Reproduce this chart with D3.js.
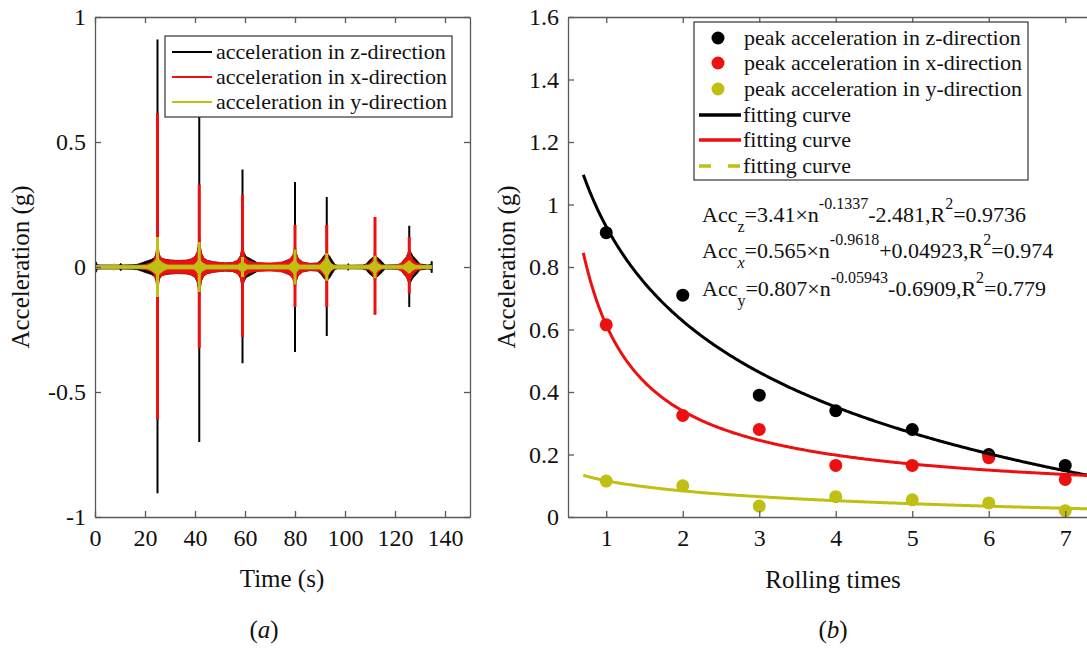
<!DOCTYPE html>
<html>
<head>
<meta charset="utf-8">
<script src="https://cdn.jsdelivr.net/npm/d3@7"></script>
<style>
  body { margin: 0; background: #fff; }
  svg text { font-family: "Liberation Serif", "Times New Roman", serif; fill: #111; }
</style>
</head>
<body>
<svg id="chart" width="1087" height="650"></svg>
<script>
// ---------- (a) acceleration time history ----------
const timeTicks = [0, 20, 40, 60, 80, 100, 120, 140];
const accTicks = [-1, -0.5, 0, 0.5, 1];
// time of each rolling pass (s)
const passTimes = [25, 41.7, 59, 80, 92.7, 112, 125.7];
// spike extremes at each pass (g)
const zSpikeUp   = [0.91, 0.71, 0.39, 0.34, 0.28, 0.20, 0.165];
const zSpikeDown = [-0.905, -0.70, -0.385, -0.34, -0.276, -0.19, -0.16];
const xSpikeUp   = [0.615, 0.33, 0.288, 0.168, 0.168, 0.20, 0.12];
const xSpikeDown = [-0.61, -0.325, -0.28, -0.16, -0.16, -0.19, -0.105];
const ySpikeUp   = [0.12, 0.10, 0.04, 0.07, 0.055, 0.045, 0.025];
const ySpikeDown = [-0.12, -0.10, -0.04, -0.07, -0.055, -0.045, -0.025];
// vibration band half-width along the record: [time (s), amplitude (g)]
const zBand = [[0,0.02],[0.6,0.02],[0.8,0.009],[2,0.008],[9.8,0.008],[10.3,0.015],[10.8,0.008],[15,0.009],[17,0.011],[19,0.018],[21,0.025],[22.5,0.03],[23.8,0.038],[24.6,0.06],[25,0.13],[25.4,0.06],[26,0.04],[27,0.034],[28.5,0.03],[30,0.028],[33,0.026],[36.5,0.027],[38.5,0.032],[40,0.042],[40.9,0.06],[41.4,0.09],[41.7,0.14],[42,0.09],[42.6,0.055],[43.5,0.036],[45,0.026],[48,0.02],[52,0.016],[55,0.018],[57,0.026],[58.2,0.045],[58.8,0.08],[59,0.12],[59.5,0.06],[60.5,0.042],[62,0.034],[63.5,0.026],[65,0.017],[68,0.014],[72,0.014],[74,0.016],[76,0.024],[78,0.032],[79.3,0.048],[79.7,0.07],[80,0.1],[80.4,0.06],[81.2,0.036],[83,0.02],[86,0.014],[89,0.016],[90.5,0.03],[91.5,0.045],[92.7,0.055],[93.8,0.045],[95,0.025],[96,0.01],[97,0.007],[101,0.007],[101.3,0.014],[101.6,0.007],[107,0.008],[108.5,0.012],[109.5,0.025],[110.8,0.036],[112,0.046],[113.3,0.036],[114.8,0.022],[116,0.008],[121,0.009],[122.3,0.012],[123.3,0.026],[124.5,0.04],[125.3,0.058],[125.7,0.075],[126.2,0.062],[127.2,0.044],[128.7,0.028],[130,0.012],[133,0.008],[134.4,0.01],[134.45,0.022],[134.9,0.022]];
const xBand = [[0,0.005],[17,0.006],[20,0.01],[22,0.016],[23.3,0.025],[24.2,0.045],[24.7,0.08],[25,0.13],[25.3,0.08],[25.8,0.05],[26.6,0.036],[28,0.029],[30,0.027],[33,0.026],[36.5,0.027],[38.5,0.032],[40,0.042],[40.9,0.06],[41.4,0.09],[41.7,0.14],[42,0.09],[42.6,0.055],[43.5,0.036],[45,0.026],[48,0.02],[52,0.016],[55,0.018],[57,0.026],[58.2,0.045],[58.8,0.08],[59,0.12],[59.3,0.07],[60,0.04],[61.5,0.025],[64,0.018],[70,0.016],[75,0.02],[77.5,0.028],[79,0.045],[79.7,0.07],[80,0.1],[80.4,0.06],[81.2,0.035],[83,0.02],[86,0.014],[89.5,0.016],[91.3,0.03],[92.3,0.05],[92.7,0.07],[93.1,0.045],[94,0.02],[95.5,0.008],[97,0.005],[107,0.005],[109.5,0.012],[110.8,0.025],[111.6,0.045],[112,0.07],[112.4,0.045],[113.2,0.025],[114.5,0.01],[116,0.005],[120.5,0.007],[122.8,0.018],[124.3,0.035],[125.2,0.055],[125.7,0.075],[126.2,0.05],[127.2,0.03],[128.8,0.015],[131,0.007],[134.7,0.005]];
const yBand = [[0,0.006],[7.3,0.006],[7.6,0.014],[8.1,0.006],[21,0.007],[22.5,0.014],[23.7,0.022],[24.4,0.03],[25,0.045],[25.6,0.03],[26.4,0.022],[27.5,0.014],[29,0.008],[39.5,0.008],[40.5,0.016],[41.2,0.026],[41.7,0.04],[42.2,0.026],[43,0.016],[44.5,0.008],[57,0.008],[58.2,0.015],[59,0.024],[59.8,0.015],[61,0.008],[77.5,0.008],[78.8,0.018],[79.6,0.028],[80,0.032],[80.6,0.02],[81.8,0.008],[90,0.008],[91.2,0.02],[92.1,0.032],[92.7,0.036],[93.4,0.03],[94.4,0.014],[95.5,0.007],[109.5,0.007],[110.8,0.016],[111.6,0.024],[112,0.028],[112.5,0.022],[113.4,0.012],[114.5,0.007],[123.2,0.007],[124.5,0.016],[125.3,0.022],[125.7,0.025],[126.2,0.02],[127.2,0.012],[128.3,0.007],[134.7,0.006]];
const seriesNamesA = ["acceleration in z-direction", "acceleration in x-direction", "acceleration in y-direction"];

// ---------- (b) peak acceleration vs rolling times ----------
const rollTicks = [1, 2, 3, 4, 5, 6, 7];
const peakTicks = [0, 0.2, 0.4, 0.6, 0.8, 1, 1.2, 1.4, 1.6];
const rolling = [1, 2, 3, 4, 5, 6, 7];
const peakZ = [0.91, 0.71, 0.39, 0.34, 0.28, 0.20, 0.165];
const peakX = [0.615, 0.325, 0.28, 0.165, 0.165, 0.19, 0.12];
const peakY = [0.115, 0.10, 0.035, 0.065, 0.055, 0.045, 0.02];
// fitted power laws  Acc = a * n^b + c
const fitZ = [3.41, -0.1337, -2.481];
const fitX = [0.565, -0.9618, 0.04923];
const fitY = [0.807, -0.05943, -0.6909];
const legendNamesB = ["peak acceleration in z-direction", "peak acceleration in x-direction", "peak acceleration in y-direction", "fitting curve", "fitting curve", "fitting curve"];

const C_BLACK = "#000000", C_RED = "#ee1010", C_YEL = "#bfbf14";
const AXIS = "#5a5a5a";
const FONT = '"Liberation Serif", "Times New Roman", serif';

const svg = d3.select("#chart");

function frame(g, x, y, xTicks, yTicks, xFmt, yFmt) {
  const [x0, x1] = x.range(), [y0, y1] = y.range();
  const styleAxis = sel => {
    sel.select(".domain").attr("stroke", AXIS).attr("stroke-width", 1.3);
    sel.selectAll(".tick line").attr("stroke", AXIS).attr("stroke-width", 1.3);
    sel.selectAll("text").attr("font-family", FONT).attr("font-size", 24).attr("fill", "#111");
  };
  g.append("g").attr("transform", `translate(0,${y0})`)
    .call(d3.axisBottom(x).tickValues(xTicks).tickFormat(xFmt).tickSizeInner(-6).tickSizeOuter(0).tickPadding(12))
    .call(styleAxis);
  g.append("g").attr("transform", `translate(0,${y1})`)
    .call(d3.axisTop(x).tickValues(xTicks).tickFormat("").tickSizeInner(-6).tickSizeOuter(0))
    .call(styleAxis);
  g.append("g").attr("transform", `translate(${x0},0)`)
    .call(d3.axisLeft(y).tickValues(yTicks).tickFormat(yFmt).tickSizeInner(-6).tickSizeOuter(0).tickPadding(9))
    .call(styleAxis);
  g.append("g").attr("transform", `translate(${x1},0)`)
    .call(d3.axisRight(y).tickValues(yTicks).tickFormat("").tickSizeInner(-6).tickSizeOuter(0))
    .call(styleAxis);
}

// ================= panel (a) =================
const xa = d3.scaleLinear().domain([0, 150]).range([95, 470]);
const ya = d3.scaleLinear().domain([-1, 1]).range([517, 17]);
const ga = svg.append("g");

svg.append("clipPath").attr("id", "clipA").append("rect")
  .attr("x", 95).attr("y", 17).attr("width", 375).attr("height", 500);

const plotA = ga.append("g").attr("clip-path", "url(#clipA)");
const band = d3.area().x(d => xa(d[0])).y0(d => ya(-d[1])).y1(d => ya(d[1]));

const seriesA = [
  { band: zBand, up: zSpikeUp, down: zSpikeDown, color: C_BLACK, w: 2 },
  { band: xBand, up: xSpikeUp, down: xSpikeDown, color: C_RED, w: 3 },
  { band: yBand, up: ySpikeUp, down: ySpikeDown, color: C_YEL, w: 3 }
];
seriesA.forEach(s => {
  plotA.append("path").datum(s.band).attr("d", band)
    .attr("fill", s.color).attr("stroke", s.color).attr("stroke-width", 0.8);
  plotA.selectAll(null).data(passTimes).enter().append("line")
    .attr("x1", d => xa(d)).attr("x2", d => xa(d))
    .attr("y1", (d, i) => ya(s.down[i])).attr("y2", (d, i) => ya(s.up[i]))
    .attr("stroke", s.color).attr("stroke-width", s.w);
});

frame(ga, xa, ya, timeTicks, accTicks, d => String(d), d => String(d));

// legend (a)
const lgA = ga.append("g");
lgA.append("rect").attr("x", 165).attr("y", 36).attr("width", 287).attr("height", 81)
  .attr("fill", "#fff").attr("stroke", "#333").attr("stroke-width", 1.2);
seriesNamesA.forEach((name, i) => {
  const cy = 52 + i * 25;
  lgA.append("line").attr("x1", 172).attr("x2", 212).attr("y1", cy).attr("y2", cy)
    .attr("stroke", seriesA[i].color).attr("stroke-width", 2);
  lgA.append("text").attr("x", 216).attr("y", cy + 7).attr("font-size", 22).text(name);
});

ga.append("text").attr("x", 282).attr("y", 587).attr("text-anchor", "middle").attr("font-size", 25).text("Time (s)");
ga.append("text").attr("transform", "translate(29,267) rotate(-90)").attr("text-anchor", "middle")
  .attr("font-size", 25).text("Acceleration (g)");
const capA = ga.append("text").attr("x", 264).attr("y", 638).attr("text-anchor", "middle").attr("font-size", 25);
capA.append("tspan").text("(");
capA.append("tspan").attr("font-style", "italic").text("a");
capA.append("tspan").text(")");

// ================= panel (b) =================
const xb = d3.scaleLinear().domain([0.5, 7.5]).range([568, 1103.5]);
const yb = d3.scaleLinear().domain([0, 1.6]).range([517, 17]);
const gb = svg.append("g");

svg.append("clipPath").attr("id", "clipB").append("rect")
  .attr("x", 568).attr("y", 17).attr("width", 535.5).attr("height", 500);
const plotB = gb.append("g").attr("clip-path", "url(#clipB)");

const ptsB = [
  { v: peakZ, color: C_BLACK },
  { v: peakX, color: C_RED },
  { v: peakY, color: C_YEL }
];
ptsB.forEach(s => {
  plotB.selectAll(null).data(rolling).enter().append("circle")
    .attr("cx", d => xb(d)).attr("cy", (d, i) => yb(s.v[i])).attr("r", 6.5)
    .attr("fill", s.color);
});

const nGrid = d3.range(0.7, 7.6, 0.02);
const fitsB = [
  { p: fitZ, color: C_BLACK },
  { p: fitX, color: C_RED },
  { p: fitY, color: C_YEL }
];
const fitLine = d3.line().x(d => xb(d[0])).y(d => yb(d[1]));
fitsB.forEach(f => {
  const pts = nGrid.map(n => [n, f.p[0] * Math.pow(n, f.p[1]) + f.p[2]]);
  plotB.append("path").datum(pts).attr("d", fitLine)
    .attr("fill", "none").attr("stroke", f.color).attr("stroke-width", 3);
});

frame(gb, xb, yb, rollTicks, peakTicks, d => String(d), d => String(Math.round(d * 10) / 10));

// legend (b)
const lgB = gb.append("g");
lgB.append("rect").attr("x", 694).attr("y", 22).attr("width", 334).attr("height", 158)
  .attr("fill", "#fff").attr("stroke", "#333").attr("stroke-width", 1.2);
const rowY = [38, 63, 89, 115, 140, 166];
legendNamesB.forEach((name, i) => {
  const cy = rowY[i];
  if (i < 3) {
    lgB.append("circle").attr("cx", 718).attr("cy", cy).attr("r", 6.5).attr("fill", ptsB[i].color);
  } else {
    lgB.append("line").attr("x1", 699).attr("x2", 741).attr("y1", cy).attr("y2", cy)
      .attr("stroke", fitsB[i - 3].color).attr("stroke-width", 3.5)
      .attr("stroke-dasharray", i === 5 ? "12,17" : null);
  }
  lgB.append("text").attr("x", i < 3 ? 744 : 743).attr("y", cy + 7).attr("font-size", 22).text(name);
});

// fitted equations
function equation(x, y, parts) {
  const t = gb.append("text").attr("x", x).attr("y", y).attr("font-size", 22);
  let cur = 0;
  parts.forEach(p => {
    const shift = p.sub ? 10 : p.sup ? -13 : 0;
    const ts = t.append("tspan").attr("dy", shift - cur).text(p.s);
    if (p.sub || p.sup) ts.attr("font-size", 16);
    if (p.it) ts.attr("font-style", "italic");
    cur = shift;
  });
}
equation(702, 222, [
  { s: "Acc" }, { s: "z", sub: true }, { s: "=" + String(fitZ[0]) + "×n" },
  { s: String(fitZ[1]), sup: true }, { s: String(fitZ[2]) + ",R" }, { s: "2", sup: true }, { s: "=0.9736" }
]);
equation(702, 258, [
  { s: "Acc" }, { s: "x", sub: true, it: true }, { s: "=" + String(fitX[0]) + "×n" },
  { s: String(fitX[1]), sup: true }, { s: "+" + String(fitX[2]) + ",R" }, { s: "2", sup: true }, { s: "=0.974" }
]);
equation(702, 296, [
  { s: "Acc" }, { s: "y", sub: true }, { s: "=" + String(fitY[0]) + "×n" },
  { s: String(fitY[1]), sup: true }, { s: String(fitY[2]) + ",R" }, { s: "2", sup: true }, { s: "=0.779" }
]);

gb.append("text").attr("x", 833).attr("y", 588).attr("text-anchor", "middle").attr("font-size", 25).text("Rolling times");
gb.append("text").attr("transform", "translate(515,267) rotate(-90)").attr("text-anchor", "middle")
  .attr("font-size", 25).text("Acceleration (g)");
const capB = gb.append("text").attr("x", 833).attr("y", 638).attr("text-anchor", "middle").attr("font-size", 25);
capB.append("tspan").text("(");
capB.append("tspan").attr("font-style", "italic").text("b");
capB.append("tspan").text(")");
</script>
</body>
</html>
